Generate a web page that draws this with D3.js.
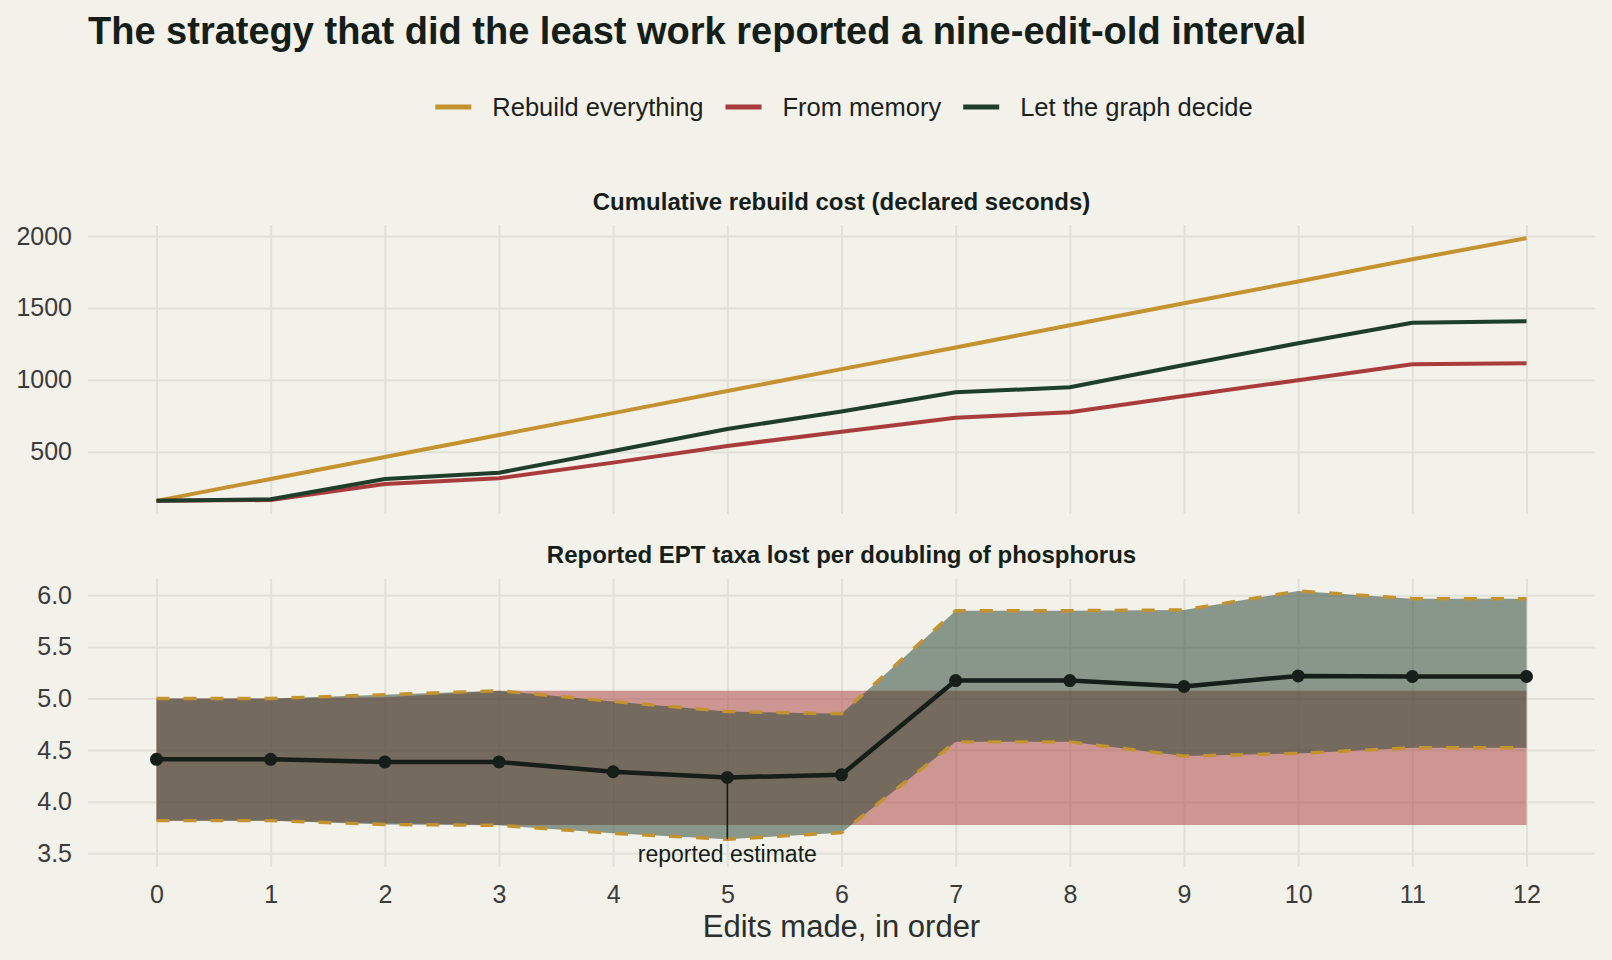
<!DOCTYPE html>
<html>
<head>
<meta charset="utf-8">
<script src="https://cdn.jsdelivr.net/npm/d3@7"></script>
<style>
  html, body { margin: 0; padding: 0; background: #f2f1ea; }
  svg { display: block; font-family: "Liberation Sans", Arial, Helvetica, sans-serif; }
  .grid line { stroke: #e2e1d8; stroke-width: 2; }
  .grid .domain { display: none; }
  .grid text { fill: #3b3b3b; font-size: 25px; }
</style>
</head>
<body>
<div id="chart"></div>
<script>
// Data
const edits = [0, 1, 2, 3, 4, 5, 6, 7, 8, 9, 10, 11, 12];

const strategies = ["Rebuild everything", "From memory", "Let the graph decide"];
const rebuildCost = [158, 310, 463, 616, 768, 922, 1074, 1225, 1379, 1532, 1684, 1838, 1985];
const memoryCost = [158, 164, 275, 315, 424, 540, 639, 736, 774, 887, 997, 1108, 1115];
const graphCost = [158, 169, 310, 354, 505, 658, 780, 913, 948, 1103, 1254, 1397, 1407];

// Reported interval, recomputed each edit (let the graph decide)
const estimate = [4.41, 4.41, 4.385, 4.385, 4.29, 4.235, 4.26, 5.174, 5.174, 5.116, 5.219, 5.213, 5.213];
const upper = [5.0, 5.0, 5.037, 5.075, 4.971, 4.874, 4.852, 5.851, 5.851, 5.858, 6.042, 5.967, 5.967];
const lower = [3.816, 3.816, 3.779, 3.771, 3.693, 3.636, 3.70, 4.58, 4.58, 4.442, 4.468, 4.522, 4.522];

// Interval held by "From memory"
const memUpper = [5.0, 5.0, 5.012, 5.075, 5.075, 5.075, 5.075, 5.075, 5.075, 5.075, 5.075, 5.075, 5.075];
const memLower = [3.816, 3.816, 3.79, 3.774, 3.774, 3.774, 3.774, 3.774, 3.774, 3.774, 3.774, 3.774, 3.774];

const costTicks = [500, 1000, 1500, 2000];
const taxaTicks = [3.5, 4.0, 4.5, 5.0, 5.5, 6.0];
const annotateAt = 5;

const colors = ["#c4922f", "#a83c3c", "#1e3d2a"];
const ink = "#151e18";

const width = 1612;
const height = 960;

const svg = d3.select("#chart")
  .append("svg")
  .attr("width", width)
  .attr("height", height);

svg.append("rect").attr("width", width).attr("height", height).attr("fill", "#f2f1ea");

const left = 88, right = 1595;
const x = d3.scaleLinear().domain([-0.6, 12.6]).range([left, right]);

// Title
svg.append("text")
  .attr("x", 88).attr("y", 44)
  .attr("font-size", 38).attr("font-weight", "bold")
  .attr("fill", ink)
  .text("The strategy that did the least work reported a nine-edit-old interval");

// Legend
const legend = svg.append("g");
let lx = 0;
strategies.forEach((name, i) => {
  const g = legend.append("g").attr("transform", `translate(${lx},0)`);
  g.append("line")
    .attr("x1", 0).attr("x2", 36).attr("y1", 107).attr("y2", 107)
    .attr("stroke", colors[i]).attr("stroke-width", 5);
  const t = g.append("text")
    .attr("x", 57).attr("y", 116)
    .attr("font-size", 25.5).attr("fill", "#1d1f1d")
    .text(name);
  lx += 57 + t.node().getComputedTextLength() + 22;
});
lx -= 22;
legend.attr("transform", `translate(${844 - lx / 2},0)`);

// ---- Top panel: cumulative cost
const topY = d3.scaleLinear().domain([66.7, 2076.5]).range([514, 225]);

svg.append("g")
  .attr("class", "grid")
  .attr("transform", `translate(0,514)`)
  .call(d3.axisBottom(x).tickValues(edits).tickSize(-(514 - 225)).tickFormat(""));

svg.append("g")
  .attr("class", "grid")
  .attr("transform", `translate(${left},0)`)
  .call(d3.axisLeft(topY).tickValues(costTicks).tickSize(-(right - left)).tickPadding(16)
    .tickFormat(d3.format("d")));

svg.append("text")
  .attr("x", 841.5).attr("y", 210)
  .attr("text-anchor", "middle")
  .attr("font-size", 24).attr("font-weight", "bold").attr("fill", ink)
  .text("Cumulative rebuild cost (declared seconds)");

const costLine = d3.line().x((d, i) => x(edits[i])).y(d => topY(d));
[rebuildCost, memoryCost, graphCost].forEach((series, i) => {
  svg.append("path")
    .datum(series)
    .attr("fill", "none")
    .attr("stroke", colors[i])
    .attr("stroke-width", 4)
    .attr("stroke-linejoin", "round")
    .attr("d", costLine);
});

// ---- Bottom panel: reported interval
const botY = d3.scaleLinear().domain([3.367, 6.158]).range([867, 579]);

svg.append("g")
  .attr("class", "grid")
  .attr("transform", `translate(0,867)`)
  .call(d3.axisBottom(x).tickValues(edits).tickSize(-(867 - 579)).tickPadding(18));

svg.append("g")
  .attr("class", "grid")
  .attr("transform", `translate(${left},0)`)
  .call(d3.axisLeft(botY).tickValues(taxaTicks).tickSize(-(right - left)).tickPadding(16)
    .tickFormat(d3.format(".1f")));

svg.append("text")
  .attr("x", 841.5).attr("y", 563)
  .attr("text-anchor", "middle")
  .attr("font-size", 24).attr("font-weight", "bold").attr("fill", ink)
  .text("Reported EPT taxa lost per doubling of phosphorus");

const band = (lo, hi) => d3.area()
  .x((d, i) => x(edits[i]))
  .y0((d, i) => botY(lo[i]))
  .y1((d, i) => botY(hi[i]));

svg.append("path")
  .datum(edits)
  .attr("fill", colors[1]).attr("fill-opacity", 0.5)
  .attr("d", band(memLower, memUpper));

svg.append("path")
  .datum(edits)
  .attr("fill", colors[2]).attr("fill-opacity", 0.5)
  .attr("d", band(lower, upper));

const edgeLine = d3.line().x((d, i) => x(edits[i])).y(d => botY(d));
[upper, lower].forEach(edge => {
  svg.append("path")
    .datum(edge)
    .attr("fill", "none")
    .attr("stroke", colors[0])
    .attr("stroke-width", 3.4)
    .attr("stroke-dasharray", "13,14")
    .attr("d", edgeLine);
});

svg.append("path")
  .datum(estimate)
  .attr("fill", "none")
  .attr("stroke", ink)
  .attr("stroke-width", 4.5)
  .attr("stroke-linejoin", "round")
  .attr("d", edgeLine);

svg.append("g")
  .selectAll("circle")
  .data(estimate)
  .join("circle")
  .attr("cx", (d, i) => x(edits[i]))
  .attr("cy", d => botY(d))
  .attr("r", 6.5)
  .attr("fill", ink);

// annotation
svg.append("line")
  .attr("x1", x(annotateAt)).attr("x2", x(annotateAt))
  .attr("y1", botY(estimate[annotateAt])).attr("y2", botY(lower[annotateAt]))
  .attr("stroke", ink).attr("stroke-width", 1.6);

svg.append("text")
  .attr("x", x(annotateAt)).attr("y", 862)
  .attr("text-anchor", "middle")
  .attr("font-size", 23).attr("fill", ink)
  .text("reported estimate");

// x axis title
svg.append("text")
  .attr("x", 841.5).attr("y", 937)
  .attr("text-anchor", "middle")
  .attr("font-size", 31).attr("fill", "#2a2f2b")
  .text("Edits made, in order");
</script>
</body>
</html>
